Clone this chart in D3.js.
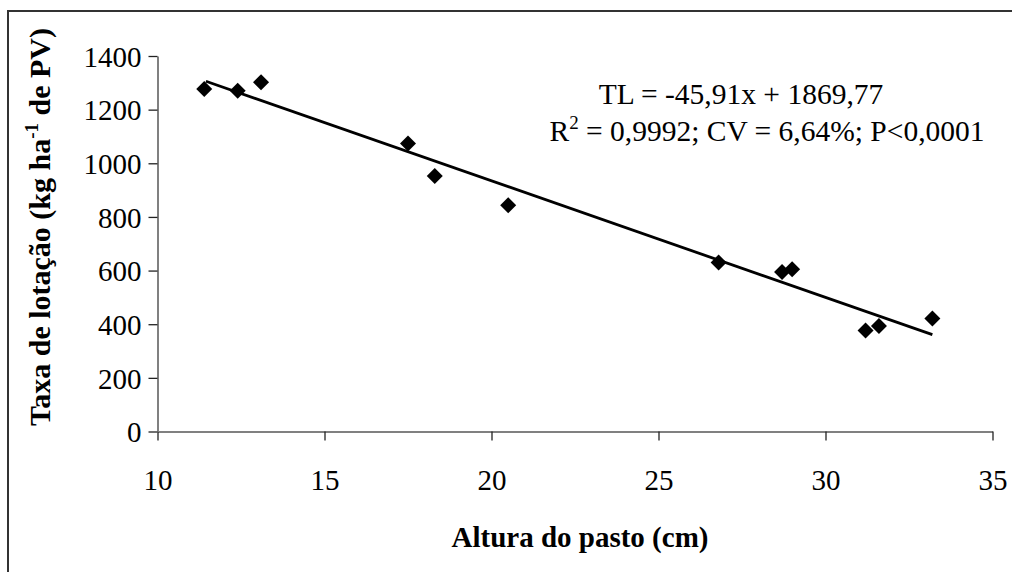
<!DOCTYPE html>
<html><head><meta charset="utf-8">
<script src="https://cdn.jsdelivr.net/npm/d3@7"></script>
<style>html,body{margin:0;padding:0;background:#fff;}svg{display:block;}</style>
</head><body>
<svg id="c" width="1012" height="572"></svg>
<script>
const alturas = [11.4, 12.4, 13.1, 17.5, 18.3, 20.5, 26.8, 28.7, 29.0, 31.2, 31.6, 33.2];
const taxas   = [1277, 1270, 1302, 1074, 953, 844, 630, 595, 605, 377, 393, 421];
const trendX  = [11.45, 33.2];
const trendY  = [1306, 361];
const xTicks  = [10, 15, 20, 25, 30, 35];
const yTicks  = [0, 200, 400, 600, 800, 1000, 1200, 1400];
const eqLine1 = "TL = -45,91x + 1869,77";
const xTitle  = "Altura do pasto (cm)";

const svg = d3.select("#c");
const font = "'Liberation Serif','Times New Roman',serif";

svg.append("rect").attr("x", 8).attr("y", 11).attr("width", 1100).attr("height", 1000)
  .attr("fill", "none").attr("stroke", "#333").attr("stroke-width", 2);

const x = d3.scaleLinear().domain([10, 35]).range([157.5, 992.5]);
const y = d3.scaleLinear().domain([0, 1400]).range([431.5, 56]);

const xAxis = svg.append("g").attr("transform", `translate(0,${y(0)})`)
  .call(d3.axisBottom(x).tickValues(xTicks).tickFormat(d3.format("d")).tickSize(9).tickSizeOuter(0));
const yAxis = svg.append("g").attr("transform", `translate(${x(10)},0)`)
  .call(d3.axisLeft(y).tickValues(yTicks).tickFormat(d3.format("d")).tickSize(9).tickPadding(7).tickSizeOuter(0));
[xAxis, yAxis].forEach(g => {
  g.select(".domain").attr("stroke", "#808080").attr("stroke-width", 2);
  g.selectAll(".tick line").attr("stroke", "#222").attr("stroke-width", 1.3);
  g.selectAll(".tick text").attr("font-family", font).attr("font-size", 29).attr("fill", "#000");
});
xAxis.selectAll(".tick text").attr("y", 58.5).attr("dy", 0);
yAxis.selectAll(".tick text").attr("dy", "0.35em");

// trend line
svg.append("line")
  .attr("x1", x(trendX[0])).attr("y1", y(trendY[0]))
  .attr("x2", x(trendX[1])).attr("y2", y(trendY[1]))
  .attr("stroke", "#000").attr("stroke-width", 2.8);

// diamonds
const r = 8;
svg.append("g").selectAll("path").data(alturas.map((a, i) => [a, taxas[i]])).join("path")
  .attr("d", d => { const cx = x(d[0]), cy = y(d[1]);
    return `M${cx},${cy - r}L${cx + r},${cy}L${cx},${cy + r}L${cx - r},${cy}Z`; })
  .attr("fill", "#000");

// equation text
svg.append("text").attr("x", 741).attr("y", 104).attr("text-anchor", "middle")
  .attr("font-family", font).attr("font-size", 29.5).text(eqLine1);
const t2 = svg.append("text").attr("x", 767).attr("y", 141).attr("text-anchor", "middle")
  .attr("font-family", font).attr("font-size", 29.5);
t2.append("tspan").text("R");
t2.append("tspan").attr("font-size", 19).attr("dy", -12).text("2");
t2.append("tspan").attr("dy", 12).text(" = 0,9992; CV = 6,64%; P<0,0001");

// x title
svg.append("text").attr("x", 580).attr("y", 547).attr("text-anchor", "middle")
  .attr("font-family", font).attr("font-size", 29).attr("font-weight", "bold").text(xTitle);

// y title
const yt = svg.append("text").attr("transform", "translate(50,227) rotate(-90)")
  .attr("text-anchor", "middle").attr("font-family", font).attr("font-size", 30).attr("font-weight", "bold");
yt.append("tspan").text("Taxa de lotação (kg ha");
yt.append("tspan").attr("font-size", 19).attr("dy", -12).text("-1");
yt.append("tspan").attr("dy", 12).text(" de PV)");
</script>
</body></html>
